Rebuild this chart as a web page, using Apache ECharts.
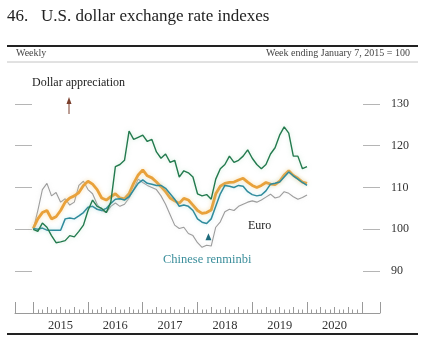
<!DOCTYPE html>
<html>
<head>
<meta charset="utf-8">
<script src="https://cdn.jsdelivr.net/npm/echarts@6/dist/echarts.min.js"></script>
<style>
  html, body { margin: 0; padding: 0; background: #fff; }
  #chart { width: 432px; height: 337px; }
</style>
</head>
<body>
<div id="chart"></div>
<script>
'use strict';

// monthly points, Jan 2015 .. Jan 2020 (index 0 = week ending Jan 7, 2015)
var firstYear = 2015;
var monthCount = 61;

var broad = [100.2, 102.5, 104, 104.5, 102.5, 103, 104.5, 106.5, 107.5, 108, 108.8, 110.5,
    111.5, 110.8, 109.5, 107.5, 107, 107.8, 108.5, 107.5, 107.3, 108.5, 111, 113,
    114.2, 112.8, 112.3, 111.3, 110.2, 109, 107.5, 106.8, 106.2, 107.4, 107, 105.8,
    104.5, 103.8, 104, 104.6, 108.5, 110.3, 111, 111.2, 111.3, 111.8, 112.2, 111.3,
    110.5, 110, 110.5, 111.2, 110.8, 110.7, 111.5, 113, 114, 112.9, 112.2, 111.3, 111];

var renminbi = [100.2, 100, 100.3, 99.8, 99.8, 99.8, 99.8, 102.5, 102.7, 102.5, 103.2, 104,
    105.3, 105.5, 104.8, 104.5, 105, 106.2, 107.2, 107.3, 107, 107.8, 109.4, 111,
    111.8, 111, 110.8, 110.5, 110.5, 109.8, 108.5, 107.2, 105.5, 105.8, 105.5, 104.5,
    102.5, 101.7, 101.4, 102.5, 105.5, 108.5, 110.5, 110.3, 110, 110.5, 110.3, 109,
    108.3, 108, 108.2, 109.2, 110.8, 111, 111.3, 112.5, 113.7, 112.8, 112, 111.2, 110.5];

var pound = [100, 99.5, 101.5, 100.5, 98.5, 96.8, 97, 97.3, 98.5, 98.2, 99.5, 101,
    104.5, 107, 105.5, 105, 104, 106.5, 115, 115.5, 116.5, 123.5, 121.5, 122,
    122.5, 121, 121.5, 118.5, 117, 118, 116, 116.5, 112.5, 114, 113.5, 112.5,
    108.5, 108, 108.3, 107.2, 112, 114.5, 115.5, 117.5, 116, 116.5, 117.5, 119,
    117, 115.5, 114.5, 115.5, 118, 119.5, 122.5, 124.5, 123, 117.5, 117.5, 114.5, 115];

var euro = [100, 104.5, 109.5, 111, 108, 108.8, 106.5, 107.3, 105.8, 106.5, 110.5, 111.5,
    109.5, 108.5, 106, 104.5, 104, 105.5, 106.3, 105.5, 106, 107.5, 109.5, 112,
    111.2, 110.5, 110, 109.5, 108, 106, 103.5, 101, 100.2, 100.5, 99, 98.5,
    96.8, 95.7, 96.2, 96, 100.5, 101.8, 104.2, 104.8, 104.5, 105.5, 106, 106.5,
    106.8, 106.5, 107, 107.7, 108.4, 107.5, 107.8, 109, 108.6, 107.8, 107.2, 107.6, 108.2];

var yearTicks = [2014.6667, 2015, 2016, 2017, 2018, 2019, 2020, 2021, 2021.3333];
var yearLabels = [2015.5, 2016.5, 2017.5, 2018.5, 2019.5, 2020.5];
var valueTicks = [90, 100, 110, 120, 130];

var months = [];
for (var i = 0; i < monthCount; i++) {
    months.push(firstYear + i / 12);
}
var quarterTicks = [];
var monthTicks = [];
for (var m = 0; m <= 72; m++) {
    if (m % 3 === 0) {
        quarterTicks.push(firstYear + m / 12);
    } else {
        monthTicks.push(firstYear + m / 12);
    }
}

function pairs(values) {
    return values.map(function (v, k) {
        return [months[k], v];
    });
}

var serif = '"Liberation Serif", "DejaVu Serif", serif';
var xMin = 2014.6667;
var xMax = 2021.3333;

function tickAxis(values, len, showLine) {
    return {
        type: 'value',
        min: xMin,
        max: xMax,
        position: 'bottom',
        axisLine: {show: showLine, lineStyle: {color: '#9a9a9a', width: 1}},
        axisTick: {show: true, inside: true, length: len, customValues: values,
            lineStyle: {color: '#9a9a9a', width: 1}},
        axisLabel: {show: false},
        splitLine: {show: false}
    };
}

var yearAxis = tickAxis(yearTicks, 11, true);
yearAxis.axisLabel = {
    show: true,
    customValues: yearLabels,
    formatter: function (v) { return String(Math.floor(v)); },
    margin: 6,
    fontFamily: serif,
    fontSize: 12.5,
    color: '#333'
};

function valueAxis(position, showLabel) {
    return {
        type: 'value',
        position: position,
        min: 80,
        max: 140,
        axisLine: {show: false},
        axisTick: {show: true, inside: true, length: 17, customValues: valueTicks,
            lineStyle: {color: '#b5b5b5', width: 1}},
        axisLabel: {show: showLabel, customValues: valueTicks, margin: 11,
            fontFamily: serif, fontSize: 12, color: '#333'},
        splitLine: {show: false}
    };
}

function lineSeries(name, values, color, width, z, glow) {
    return {
        name: name,
        type: 'line',
        data: pairs(values),
        showSymbol: false,
        symbol: 'none',
        z: z,
        lineStyle: {color: color, width: width, shadowColor: glow, shadowBlur: 4},
        emphasis: {disabled: true}
    };
}

var chart = echarts.init(document.getElementById('chart'), null, {renderer: 'canvas'});

var teal = lineSeries('Chinese renminbi', renminbi, '#2f8b9c', 1.5, 4, 'rgba(150,215,225,0.6)');
teal.markPoint = {
    symbol: 'triangle',
    symbolSize: [6, 7],
    itemStyle: {color: '#1f6b7c'},
    label: {show: false},
    data: [{coord: [2018.2, 98.2]}]
};

chart.setOption({
    animation: false,
    backgroundColor: '#fff',
    grid: {left: 15, right: 52, top: 62, bottom: 24, containLabel: false},
    xAxis: [yearAxis, tickAxis(quarterTicks, 6, false), tickAxis(monthTicks, 3.5, false)],
    yAxis: [valueAxis('right', true), valueAxis('left', false)],
    series: [
        lineSeries('Euro', euro, '#9c9c9c', 1.1, 2, 'rgba(200,200,200,0.4)'),
        lineSeries('Broad dollar', broad, '#e9a13a', 2.8, 3, 'rgba(245,210,140,0.7)'),
        lineSeries('British pound', pound, '#237a4e', 1.4, 5, 'rgba(160,215,180,0.5)'),
        teal
    ],
    graphic: [
        {type: 'text', left: 7, top: 8,
            style: {text: '46.   U.S. dollar exchange rate indexes', font: '17px ' + serif, fill: '#222'}},
        {type: 'line', shape: {x1: 7, y1: 46, x2: 418, y2: 46}, style: {stroke: '#222', lineWidth: 2}},
        {type: 'text', left: 16, top: 48,
            style: {text: 'Weekly', font: '10px ' + serif, fill: '#444'}},
        {type: 'text', right: 22, top: 48,
            style: {text: 'Week ending January 7, 2015 = 100', font: '10px ' + serif, fill: '#444', align: 'right'}},
        {type: 'line', shape: {x1: 7, y1: 62, x2: 418, y2: 62}, style: {stroke: '#c4c4c4', lineWidth: 1}},
        {type: 'line', shape: {x1: 7, y1: 334, x2: 418, y2: 334}, style: {stroke: '#222', lineWidth: 2}},
        {type: 'text', left: 32, top: 77,
            style: {text: 'Dollar appreciation', font: '12px ' + serif, fill: '#222'}},
        {type: 'line', shape: {x1: 69, y1: 114, x2: 69, y2: 101}, style: {stroke: '#7a3f2c', lineWidth: 1}},
        {type: 'polygon', shape: {points: [[66.5, 104], [71.5, 104], [69, 97]]}, style: {fill: '#7a3f2c'}},
        {type: 'text', left: 248, top: 220,
            style: {text: 'Euro', font: '12px ' + serif, fill: '#222'}},
        {type: 'text', left: 163, top: 253,
            style: {text: 'Chinese renminbi', font: '12.5px ' + serif, fill: '#3b8e9b'}}
    ]
});
</script>
</body>
</html>
